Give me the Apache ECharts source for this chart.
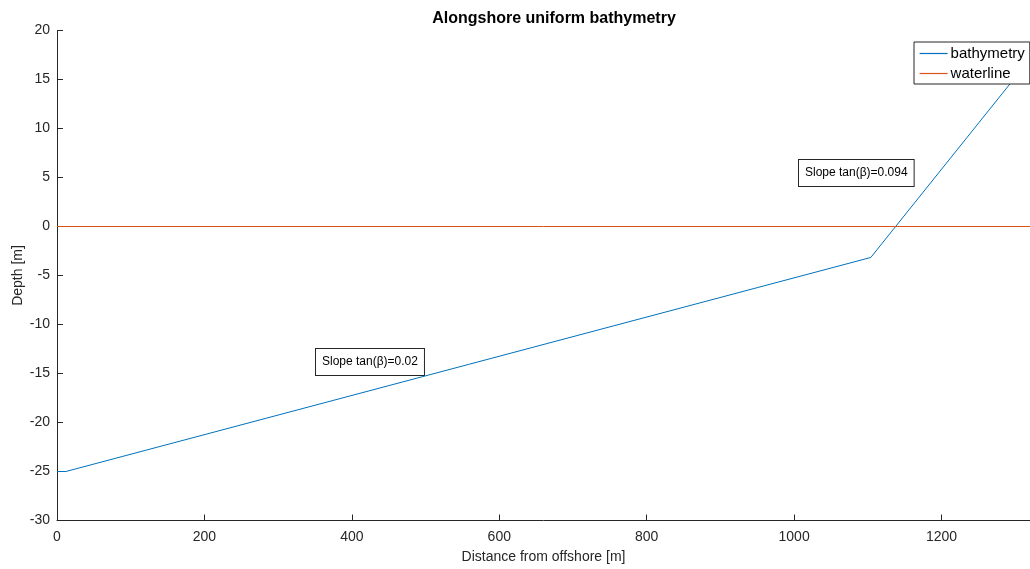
<!DOCTYPE html>
<html>
<head>
<meta charset="utf-8">
<script src="https://cdn.jsdelivr.net/npm/echarts@6/dist/echarts.min.js"></script>
<style>
html,body{margin:0;padding:0;background:#fff;}
#chart{width:1030px;height:569px;}
</style>
</head>
<body>
<div id="chart"></div>
<script>
// Cross-shore profile: distance from offshore [m] and bed level [m]
const profileX = [0, 12, 1104, 1320];
const profileDepth = [-25, -25, -3.16, 17.1];
// Still water level
const waterX = [0, 1320];
const waterLevel = [0, 0];
// Slope annotations
const slopeLabels = ['Slope tan(β)=0.02', 'Slope tan(β)=0.094'];
const xTicks = [0, 200, 400, 600, 800, 1000, 1200];
const yTicks = [-30, -25, -20, -15, -10, -5, 0, 5, 10, 15, 20];

const axisColor = '#262626';
const blue = '#0072BD';
const orange = '#D95319';
const font = 'Liberation Sans, Arial, sans-serif';

const boxStyle = {
  fontFamily: font, fontSize: 12, lineHeight: 14, fill: '#000',
  backgroundColor: '#fff', borderColor: '#262626', borderWidth: 1,
  padding: [6, 6, 6, 6]
};

const chart = echarts.init(document.getElementById('chart'));
chart.setOption({
  animation: false,
  backgroundColor: '#fff',
  color: [blue, orange],
  title: {
    text: 'Alongshore uniform bathymetry',
    left: 549, textAlign: 'center', top: 6,
    textStyle: {fontFamily: font, fontSize: 16, fontWeight: 'bold', color: '#000'}
  },
  grid: {left: 57, right: 0, top: 30.5, bottom: 48.5, containLabel: false, outerBoundsMode: 'none'},
  legend: {
    orient: 'vertical',
    left: 914, top: 42,
    backgroundColor: '#fff',
    borderColor: '#262626',
    borderWidth: 1,
    borderRadius: 0,
    padding: [4, 5, 3, 5],
    itemGap: 5,
    itemWidth: 28,
    itemHeight: 13,
    textStyle: {fontFamily: font, fontSize: 15, color: '#000', padding: [0, 0, 0, -2]},
    data: [
      {name: 'bathymetry', lineStyle: {color: blue, width: 1.2, opacity: 1}, itemStyle: {color: blue, opacity: 0, borderWidth: 0}},
      {name: 'waterline', lineStyle: {color: orange, width: 1.2, opacity: 1}, itemStyle: {color: orange, opacity: 0, borderWidth: 0}}
    ]
  },
  xAxis: {
    type: 'value', min: 0, max: 1320, interval: 200,
    name: 'Distance from offshore [m]', nameLocation: 'middle', nameGap: 30,
    nameMoveOverlap: false,
    nameTextStyle: {fontFamily: font, fontSize: 14, color: axisColor},
    axisLine: {show: true, onZero: false, lineStyle: {color: axisColor, width: 1}},
    axisTick: {show: true, inside: true, length: 6, lineStyle: {color: axisColor}},
    axisLabel: {
      fontFamily: font, fontSize: 14, color: axisColor, margin: 10,
      showMaxLabel: false,
      formatter: v => xTicks.includes(v) ? String(v) : ''
    },
    splitLine: {show: false}
  },
  yAxis: {
    type: 'value', min: -30, max: 20, interval: 5,
    name: 'Depth [m]', nameLocation: 'middle', nameGap: 32, nameRotate: 90,
    nameMoveOverlap: false,
    nameTextStyle: {fontFamily: font, fontSize: 14, color: axisColor},
    axisLine: {show: true, onZero: false, lineStyle: {color: axisColor, width: 1}},
    axisTick: {show: true, inside: true, length: 6, lineStyle: {color: axisColor}},
    axisLabel: {
      fontFamily: font, fontSize: 14, color: axisColor, margin: 7,
      formatter: v => yTicks.includes(v) ? String(v) : ''
    },
    splitLine: {show: false}
  },
  series: [
    {
      name: 'bathymetry', type: 'line', symbol: 'none', color: blue,
      data: profileX.map((x, i) => [x, profileDepth[i]]),
      lineStyle: {color: blue, width: 1},
      itemStyle: {color: blue}
    },
    {
      name: 'waterline', type: 'line', symbol: 'none', color: orange,
      data: waterX.map((x, i) => [x, waterLevel[i]]),
      lineStyle: {color: orange, width: 1},
      itemStyle: {color: orange}
    }
  ],
  graphic: [
    {type: 'text', left: 315, top: 348, style: Object.assign({text: slopeLabels[0]}, boxStyle)},
    {type: 'text', left: 798, top: 159, style: Object.assign({text: slopeLabels[1]}, boxStyle)}
  ]
});
</script>
</body>
</html>
